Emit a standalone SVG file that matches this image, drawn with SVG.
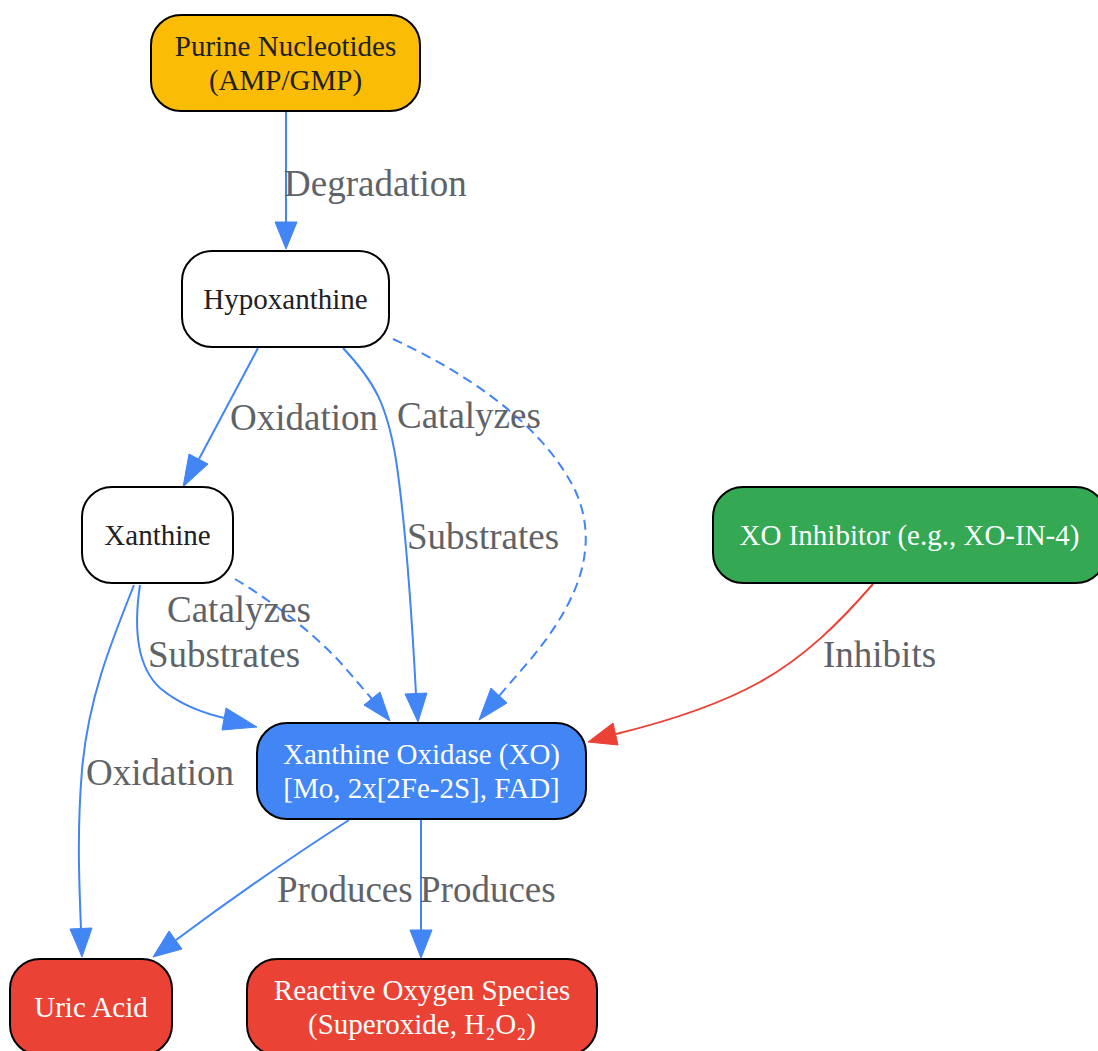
<svg xmlns="http://www.w3.org/2000/svg" width="1098" height="1051" viewBox="0 0 1098 1051">
<style>
.node rect{stroke:#000;stroke-width:2}
.nt{font-family:"Liberation Serif","Times New Roman",serif;font-size:29px;text-anchor:middle}
.dark{fill:#202124}
.light{fill:#ffffff}
.e{fill:none;stroke:#4285F4;stroke-width:2}
.d{stroke-dasharray:10,6}
.r{stroke:#EA4335}
.lbl{font-family:"Liberation Serif","Times New Roman",serif;font-size:37px;fill:#5f6368}
.ah{fill:#4285F4;stroke:#4285F4;stroke-width:1}
.ahr{fill:#EA4335;stroke:#EA4335;stroke-width:1}
</style>
<rect width="1098" height="1051" fill="#ffffff"/>
<g id="edges">
  <path class="e" d="M286,111 L286,222"/>
  <polygon class="ah" points="275,222 297,222 286,249"/>
  <text class="lbl" x="284" y="196">Degradation</text>

  <path class="e" d="M258,348 L199,459"/>
  <polygon class="ah" points="189,454 208,464 183,487"/>
  <text class="lbl" x="230" y="430">Oxidation</text>

  <path class="e" d="M343,348 C375,382 387,405 396,460 C405,520 411,600 416,694"/>
  <polygon class="ah" points="405,694 427,693 418,722"/>
  <text class="lbl" x="407" y="549">Substrates</text>

  <path class="e d" d="M393,339 C460,370 540,420 575,490 C600,545 580,600 530,660 L499,696"/>
  <polygon class="ah" points="491,688 507,703 479,720"/>
  <text class="lbl" x="397" y="428">Catalyzes</text>

  <path class="e d" d="M235,579 C270,600 310,630 340,662 L372,699"/>
  <polygon class="ah" points="364,705 380,692 390,721"/>
  <text class="lbl" x="167" y="622">Catalyzes</text>

  <path class="e" d="M140,585 C134,625 135,665 160,688 C180,705 205,714 229,719"/>
  <polygon class="ah" points="226,708 222,730 257,727"/>
  <text class="lbl" x="148" y="667">Substrates</text>

  <path class="e" d="M134,585 C110,645 88,700 82,770 C77,830 79,880 81,929"/>
  <polygon class="ah" points="70,929 92,928 82,957"/>
  <text class="lbl" x="86" y="785">Oxidation</text>

  <path class="e" d="M349,820 C310,845 250,885 176,940"/>
  <polygon class="ah" points="169,931 182,949 153,957"/>
  <text class="lbl" x="277" y="902">Produces</text>

  <path class="e" d="M421,820 L421,930"/>
  <polygon class="ah" points="410,930 432,930 421,958"/>
  <text class="lbl" x="420" y="902">Produces</text>

  <path class="e r" d="M873,584 C840,622 805,657 760,682 C715,707 665,722 616,734"/>
  <polygon class="ahr" points="613,723 618,745 588,742"/>
  <text class="lbl" x="823" y="667">Inhibits</text>
</g>
<g id="purine" class="node">
  <rect x="151" y="15" width="269" height="96" rx="30" fill="#FBBC05"/>
  <text class="nt dark" x="285.5" y="56">Purine Nucleotides</text>
  <text class="nt dark" x="285.5" y="90">(AMP/GMP)</text>
</g>
<g id="hypoxanthine" class="node">
  <rect x="182" y="251" width="207" height="96" rx="30" fill="#ffffff"/>
  <text class="nt dark" x="285.5" y="309">Hypoxanthine</text>
</g>
<g id="xanthine" class="node">
  <rect x="82" y="487" width="151" height="96" rx="30" fill="#ffffff"/>
  <text class="nt dark" x="157.5" y="545">Xanthine</text>
</g>
<g id="inhibitor" class="node">
  <rect x="713" y="487" width="393" height="96" rx="30" fill="#34A853"/>
  <text class="nt light" x="909.5" y="545">XO Inhibitor (e.g., XO-IN-4)</text>
</g>
<g id="xo" class="node">
  <rect x="257" y="723" width="329" height="96" rx="30" fill="#4285F4"/>
  <text class="nt light" x="421.5" y="764">Xanthine Oxidase (XO)</text>
  <text class="nt light" x="421.5" y="798">[Mo, 2x[2Fe-2S], FAD]</text>
</g>
<g id="uric" class="node">
  <rect x="10" y="959" width="162" height="96" rx="30" fill="#EA4335"/>
  <text class="nt light" x="91" y="1017">Uric Acid</text>
</g>
<g id="ros" class="node">
  <rect x="247" y="959" width="350" height="96" rx="30" fill="#EA4335"/>
  <text class="nt light" x="422" y="1000">Reactive Oxygen Species</text>
  <text class="nt light" x="422" y="1034">(Superoxide, H₂O₂)</text>
</g>
</svg>
